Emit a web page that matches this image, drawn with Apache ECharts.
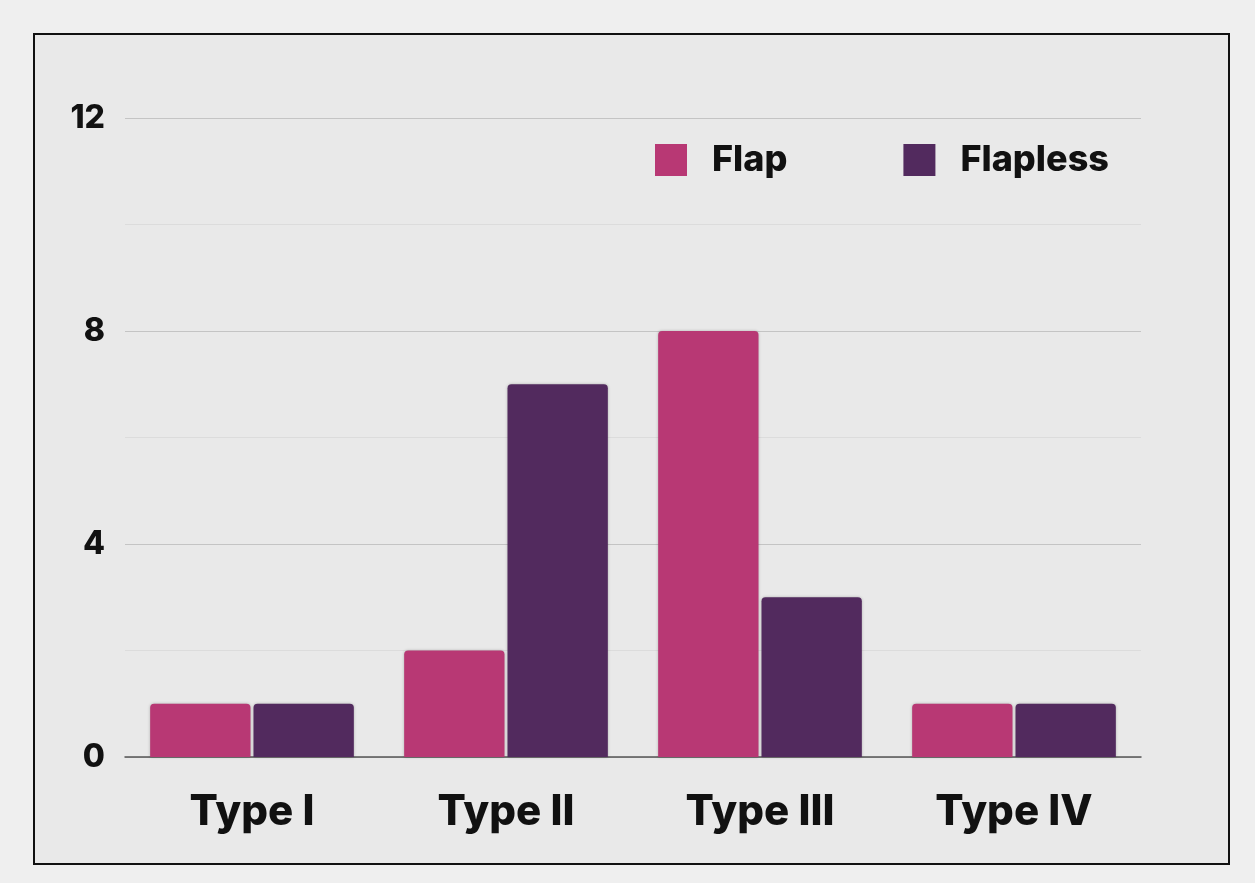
<!DOCTYPE html>
<html><head><meta charset="utf-8">
<script src="https://cdn.jsdelivr.net/npm/echarts@6/dist/echarts.min.js"></script>
<style>
html,body{margin:0;padding:0;background:#efefef;width:1255px;height:883px;overflow:hidden}
#frame{position:absolute;left:33px;top:33px;width:1193px;height:828px;border:2px solid #111;background:#e9e9e9}
#chart{position:absolute;left:0;top:0;width:1255px;height:883px}
</style></head><body>
<div id="frame"></div>
<div id="chart"></div>
<script>
const categories = ['Type I','Type II','Type III','Type IV'];
const flap = [1,2,8,1];
const flapless = [1,7,3,1];
const seriesNames = ['Flap','Flapless'];
const colors = ['#b83874','#522a5e'];

const chart = echarts.init(document.getElementById('chart'));
const font = 'Inter, "Open Sans", sans-serif';
chart.setOption({
  backgroundColor:'transparent',
  animation:false,
  color:colors,
  grid:{left:125,right:114,top:118,bottom:126,containLabel:false},
  legend:{
    left:650, top:137, itemWidth:32, itemHeight:32, itemGap:116,
    icon:'rect',
    textStyle:{fontFamily:font,fontWeight:800,fontSize:36,color:'#111',padding:[8,0,0,20]},
    data:seriesNames
  },
  xAxis:{
    type:'category', data:categories,
    axisLine:{lineStyle:{color:'#555',width:1.5}},
    axisTick:{show:false},
    axisLabel:{fontFamily:font,fontWeight:800,fontSize:42,color:'#111',margin:34}
  },
  yAxis:{
    type:'value', min:0, max:12, interval:2,
    axisLine:{show:false}, axisTick:{show:false},
    axisLabel:{fontFamily:font,fontWeight:800,fontSize:32,color:'#111',margin:20,padding:[4,0,0,0],
      formatter:v=> v%4===0 ? String(v) : ''},
    splitLine:{lineStyle:{color:['#c4c4c4','#dcdcdc'],width:1.2}}
  },
  series:[
    {name:seriesNames[0],type:'bar',data:flap,barWidth:'39.5%',barGap:'3%',
     itemStyle:{borderRadius:[4,4,0,0],shadowColor:'rgba(0,0,0,0.25)',shadowBlur:3}},
    {name:seriesNames[1],type:'bar',data:flapless,barWidth:'39.5%',barGap:'3%',
     itemStyle:{borderRadius:[4,4,0,0],shadowColor:'rgba(0,0,0,0.25)',shadowBlur:3}}
  ]
});
</script>
</body></html>
